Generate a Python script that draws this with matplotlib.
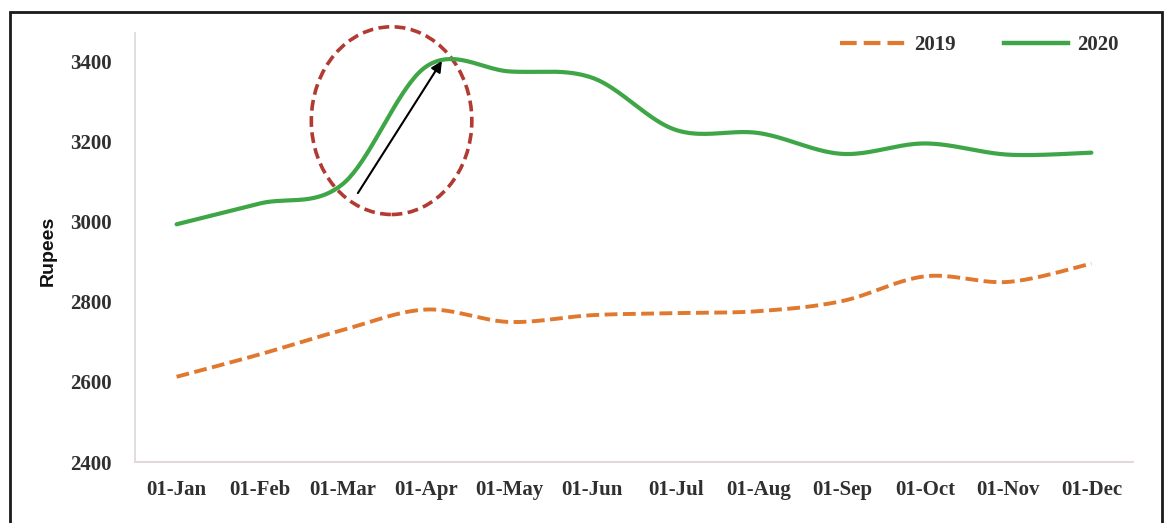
import matplotlib.pyplot as plt
import numpy as np
from matplotlib.patches import Ellipse, Rectangle
from matplotlib.lines import Line2D

months = ['01-Jan', '01-Feb', '01-Mar', '01-Apr', '01-May', '01-Jun',
          '01-Jul', '01-Aug', '01-Sep', '01-Oct', '01-Nov', '01-Dec']
price_2019 = [2613, 2669, 2730, 2781, 2750, 2767, 2772, 2777, 2802, 2864, 2850, 2896]
price_2020 = [2994, 3046, 3095, 3388, 3376, 3360, 3230, 3222, 3170, 3196, 3168, 3173]
y_ticks = [2400, 2600, 2800, 3000, 3200, 3400]


# excel style smoothed line: cubic bezier segments through every point
def smooth(xs, ys, n=40):
    p = np.column_stack([xs, ys]).astype(float)
    out = []
    for i in range(len(p) - 1):
        p0 = p[max(i - 1, 0)]
        p1 = p[i]
        p2 = p[i + 1]
        p3 = p[min(i + 2, len(p) - 1)]
        c1 = p1 + (p2 - p0) / 6
        c2 = p2 - (p3 - p1) / 6
        t = np.linspace(0, 1, n)[:, None]
        seg = ((1 - t) ** 3) * p1 + 3 * ((1 - t) ** 2) * t * c1 + 3 * (1 - t) * t ** 2 * c2 + t ** 3 * p2
        out.append(seg if i == 0 else seg[1:])
    out = np.vstack(out)
    return out[:, 0], out[:, 1]


plt.rcParams['font.family'] = ['Liberation Serif', 'DejaVu Serif']

fig = plt.figure(figsize=(11.65, 5.23), dpi=100)
ax = fig.add_axes([0.1159, 0.1166, 0.8566, 0.8203])

x = np.arange(len(months))
orange = '#E0782E'
green = '#3FA648'
text_col = '#303030'

sx, sy = smooth(x, price_2019)
ax.plot(sx, sy, color=orange, lw=2.8, ls=(0, (3.3, 1.4)), solid_capstyle='butt')
sx, sy = smooth(x, price_2020)
ax.plot(sx, sy, color=green, lw=3.0, solid_capstyle='round')

# highlight of the march-april jump
ax.add_patch(Ellipse((2.585, 3253), 1.93, 469, fill=False, ec='#B23A32',
                     lw=2.6, ls=(0, (3, 1.5)), clip_on=False))
ax.annotate('', xy=(3.19, 3402), xytext=(2.18, 3072),
            arrowprops=dict(arrowstyle='-|>', color='black', lw=1.5,
                            mutation_scale=16, shrinkA=0, shrinkB=0))

ax.set_xlim(-0.5, 11.5)
ax.set_ylim(2400, 3472)
ax.set_xticks(x)
ax.set_xticklabels(months, fontsize=15, fontweight='bold', color=text_col)
ax.set_yticks(y_ticks)
ax.set_yticklabels([str(v) for v in y_ticks], fontsize=15, fontweight='bold', color=text_col)
ax.tick_params(axis='x', length=0, pad=13)
ax.tick_params(axis='y', length=0, pad=17)

fig.text(48 / 1165, 1 - 251 / 523, 'Rupees', rotation=90, ha='center', va='center',
         fontsize=14, fontweight='bold', family='Liberation Sans', color='#111111')

for side in ['top', 'right']:
    ax.spines[side].set_visible(False)
ax.spines['left'].set_color('#d9d9d9')
ax.spines['bottom'].set_color('#e2d8d8')
ax.spines['left'].set_linewidth(1.2)
ax.spines['bottom'].set_linewidth(1.5)

handles = [Line2D([], [], color=orange, lw=3, ls=(0, (4, 1.7))),
           Line2D([], [], color=green, lw=3.2)]
fig.legend(handles, ['2019', '2020'], loc='center right',
           bbox_to_anchor=(1119 / 1165, 1 - 45 / 523), borderaxespad=0, borderpad=0,
           ncol=2, frameon=False, prop=dict(size=15, weight='bold'),
           handlelength=3.1, handletextpad=0.45, columnspacing=2.3, labelcolor=text_col)

# outer frame of the figure
fig.add_artist(Rectangle((10 / 1165, -0.05), 1152 / 1165, 1.05 - 12 / 523,
                         transform=fig.transFigure, fill=False, ec='#1a1a1a', lw=2))

fig.savefig('out.png', dpi=100)
